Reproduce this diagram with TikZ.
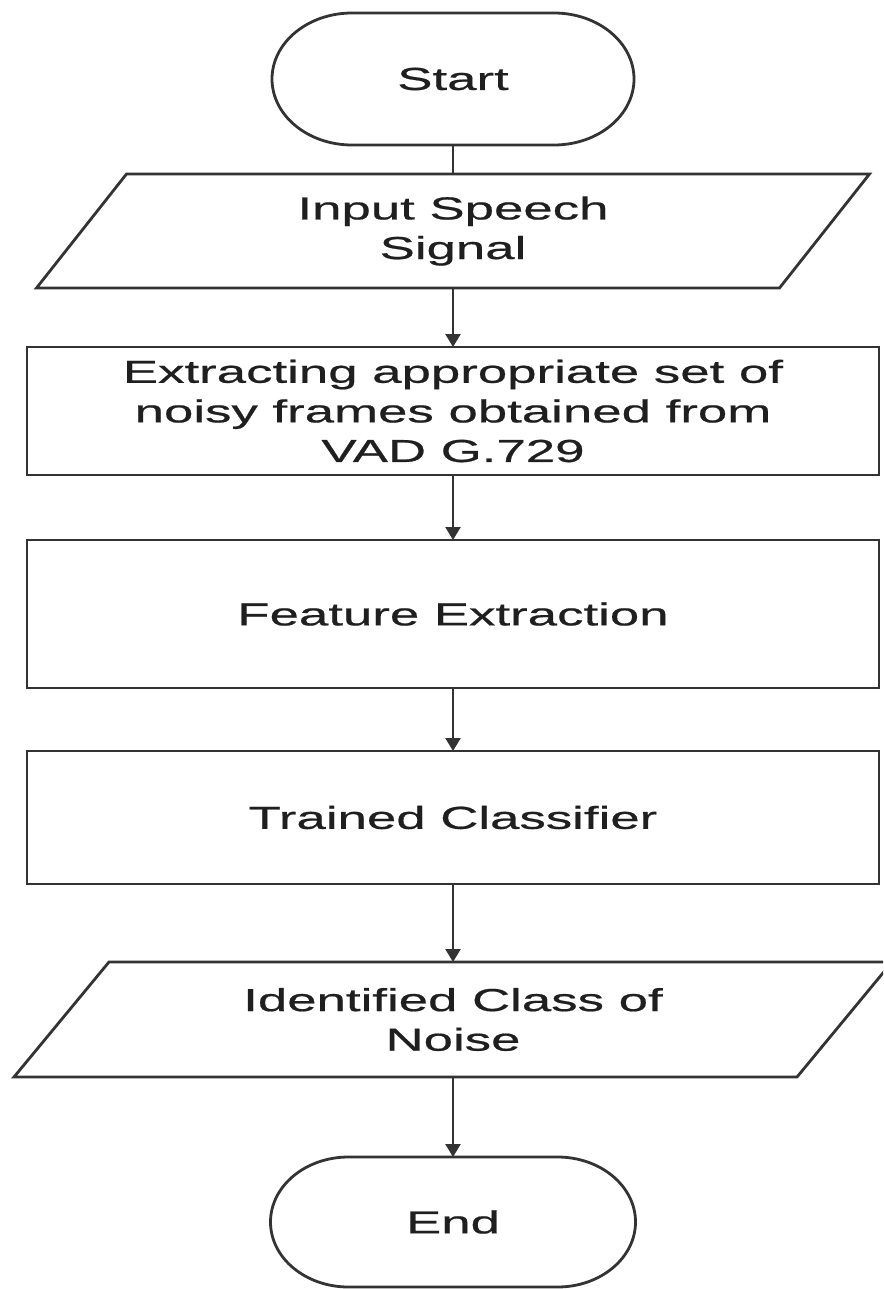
\documentclass[tikz,border=0pt]{standalone}
\usepackage{fontspec}
\setmainfont{Liberation Sans}[FakeStretch=1.66,FakeBold=0.6]
\usetikzlibrary{calc,arrows.meta}
\begin{document}
\begin{tikzpicture}[x=0.5pt,y=0.5pt,
  ln/.style={line width=1.4pt,draw=black!80},
  txt/.style={font=\fontsize{15.9pt}{19.8pt}\selectfont, text=black!88, align=center, inner sep=0pt, outer sep=0pt},
  boxnode/.style={txt, ln, rectangle, minimum width=426pt},
  shapenode/.style={txt, rectangle, draw=none},
  conn/.style={line width=1.2pt, draw=black!80, -{Triangle[width=7.5pt,length=6.5pt]}},
  plainline/.style={line width=1.2pt, draw=black!80}
]
\useasboundingbox (0,0) rectangle (883,-1289);
\fill[white] (0,0) rectangle (883,-1289);
\begin{scope}
\clip (0,0) rectangle (883,-1289);

% Start terminator
\node[shapenode, minimum width=181pt, minimum height=66pt] (start) at (453,-79) {Start};
\draw[ln] ($(start.north west)+(80,0)$) -- ($(start.north east)+(-80,0)$)
  arc[start angle=90,end angle=-90,x radius=80,y radius=66]
  -- ($(start.south west)+(80,0)$)
  arc[start angle=270,end angle=90,x radius=80,y radius=66] -- cycle;

% Input parallelogram
\node[shapenode, minimum width=416.5pt, minimum height=57pt] (p1) at (453,-231) {Input Speech\\Signal};
\draw[ln] ($(p1.north west)+(90,0)$) -- (p1.north east) -- ($(p1.south east)+(-90,0)$) -- (p1.south west) -- cycle;

% Process boxes
\node[boxnode, minimum height=64pt] (r1) at (453,-411) {Extracting appropriate set of\\noisy frames obtained from\\VAD G.729};
\node[boxnode, minimum height=74pt] (r2) at (453,-614) {Feature Extraction};
\node[boxnode, minimum height=66.5pt] (r3) at (453,-817.5) {Trained Classifier};

% Output parallelogram
\node[shapenode, minimum width=439pt, minimum height=57.5pt] (p2) at (453,-1019.5) {Identified Class of\\Noise};
\draw[ln] ($(p2.north west)+(95,0)$) -- (p2.north east) -- ($(p2.south east)+(-95,0)$) -- (p2.south west) -- cycle;

% End terminator
\node[shapenode, minimum width=182.5pt, minimum height=65pt] (end) at (453,-1222) {End};
\draw[ln] ($(end.north west)+(78,0)$) -- ($(end.north east)+(-78,0)$)
  arc[start angle=90,end angle=-90,x radius=78,y radius=65]
  -- ($(end.south west)+(78,0)$)
  arc[start angle=270,end angle=90,x radius=78,y radius=65] -- cycle;

% Connectors
\draw[plainline] (start.south) -- (p1.north);
\draw[conn] (p1.south) -- (r1.north);
\draw[conn] (r1.south) -- (r2.north);
\draw[conn] (r2.south) -- (r3.north);
\draw[conn] (r3.south) -- (p2.north);
\draw[conn] (p2.south) -- (end.north);
\end{scope}
\end{tikzpicture}
\end{document}
